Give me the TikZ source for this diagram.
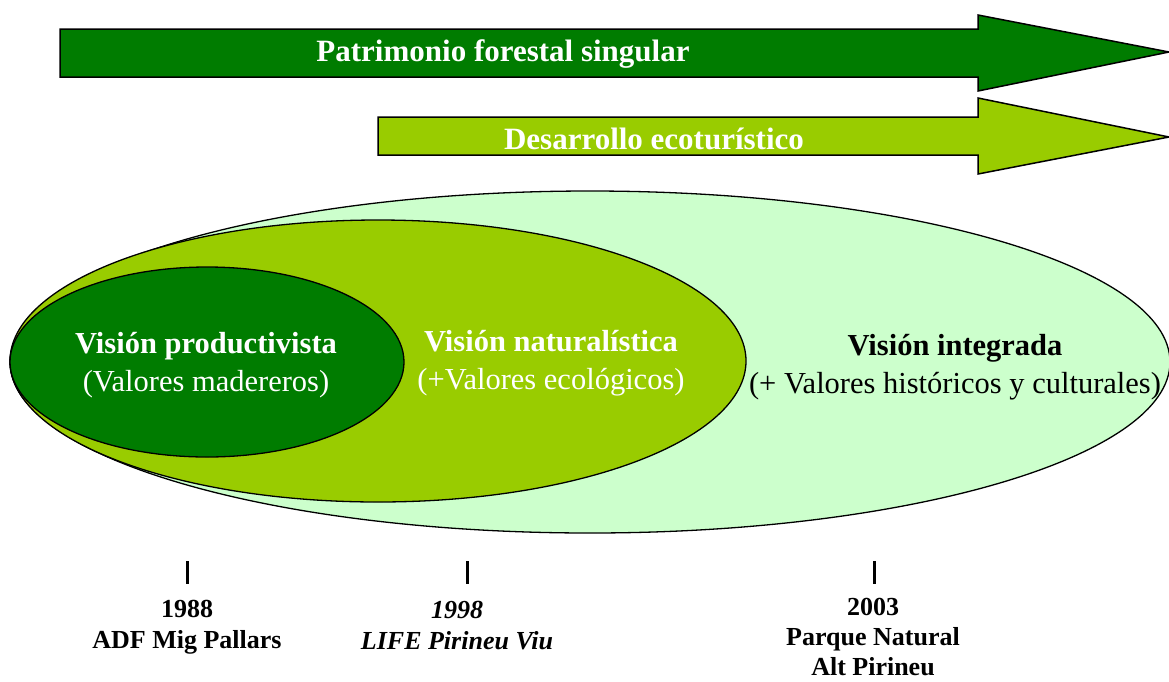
\documentclass[tikz,border=0pt]{standalone}
\usepackage{fontspec}
\setmainfont{Liberation Serif}
\definecolor{dkgreen}{HTML}{007C00}
\definecolor{ltgreen}{HTML}{99CC00}
\definecolor{palegreen}{HTML}{CCFFCC}
\tikzset{
  arrowshape/.style={draw=black,line width=1.5pt,line join=miter},
  ell/.style={draw=black,line width=1.3pt},
  big/.style={font=\fontsize{31}{36}\selectfont\bfseries},
  lbl/.style={font=\fontsize{30.5}{38}\selectfont,align=center},
  tick/.style={line width=3pt},
  yearlbl/.style={font=\fontsize{26}{31}\selectfont\bfseries,align=center},
}
\begin{document}
\begin{tikzpicture}[x=1pt,y=-1pt]
\useasboundingbox (0,0) rectangle (1169,681);
% arrows
\fill[dkgreen] (60,29) -- (978,29) -- (978,15) -- (1169,52) -- (978,91) -- (978,77) -- (60,77) -- cycle;
\draw[arrowshape] (60,29) -- (978,29) -- (978,15) -- (1169,52) -- (978,91) -- (978,77) -- (60,77) -- cycle;
\node[big,text=white] (a1) at (503,54) {Patrimonio forestal singular};
\fill[ltgreen] (378,117) -- (978,117) -- (978,98) -- (1169,137) -- (978,174) -- (978,155) -- (378,155) -- cycle;
\draw[arrowshape] (378,117) -- (978,117) -- (978,98) -- (1169,137) -- (978,174) -- (978,155) -- (378,155) -- cycle;
\node[big,text=white] (a2) at (654,139) {Desarrollo ecoturístico};
% ellipses
\draw[ell,fill=palegreen] (590,362) ellipse [x radius=580, y radius=171];
\draw[ell,fill=ltgreen] (378,361) ellipse [x radius=368, y radius=141];
\draw[ell,fill=dkgreen] (207,362) ellipse [x radius=197, y radius=95];
\node[lbl,text=white] (vp) at (206,365) {\textbf{Visión productivista}\\(Valores madereros)};
\node[lbl,text=white] (vn) at (551,363) {\textbf{Visión naturalística}\\(+Valores ecológicos)};
\node[lbl,text=black] (vi) at (955,367) {\textbf{Visión integrada}\\(+ Valores históricos y culturales)};
% ticks
\draw[tick] (187,561) -- (187,584);
\draw[tick] (467,561) -- (467,584);
\draw[tick] (874,561) -- (874,584);
\node[yearlbl] (y1) at (187,627) {1988\\ADF Mig Pallars};
\node[yearlbl,font=\fontsize{26}{31}\selectfont\bfseries\itshape] (y2) at (457,626) {1998\\LIFE Pirineu Viu};
\node[yearlbl,font=\fontsize{26}{30}\selectfont\bfseries] (y3) at (873,637) {2003\\Parque Natural\\Alt Pirineu};
\end{tikzpicture}
\end{document}
